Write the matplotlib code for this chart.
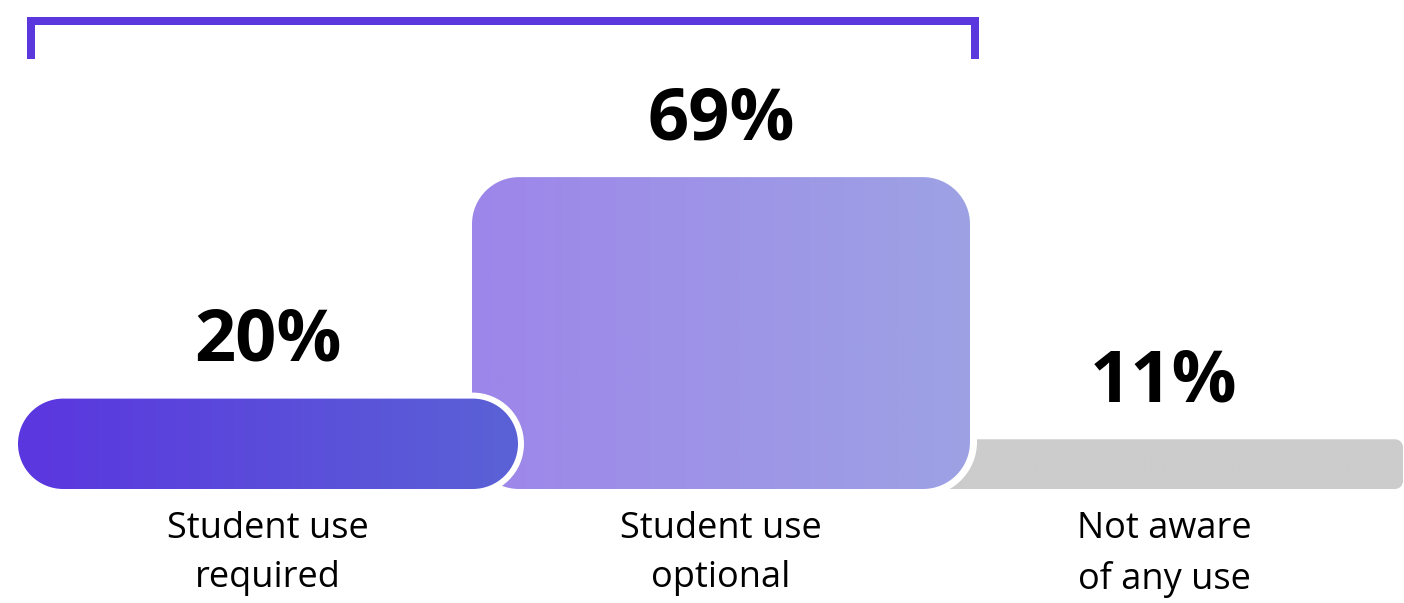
import matplotlib
matplotlib.use('Agg')
import matplotlib.pyplot as plt
import numpy as np
from matplotlib.patches import PathPatch
from matplotlib.path import Path
from matplotlib.transforms import IdentityTransform
from matplotlib.lines import Line2D
from matplotlib.colors import LinearSegmentedColormap

# ---- data ----
categories = ['Student use\nrequired', 'Student use\noptional', 'Not aware\nof any use']
values = [20, 69, 11]
value_labels = ['20%', '69%', '11%']

# ---- layout / style ----
W, H = 1404, 603
PX_PER_PCT = 4.52
BASE_PX = 114
bar_edges = [(18, 518), (472, 970), (925, 1403)]
radii = [None, 47, 8]           # None -> pill shape
halos = [6, 7, 0]
grads = [('#5A36DF', '#5B62D6'), ('#9D86EA', '#9DA2E4'), ('#CCCCCC', '#CCCCCC')]
FONT = 'Open Sans'

fig = plt.figure(figsize=(W / 100, H / 100), dpi=100)
ax = fig.add_axes([0, 0, 1, 1])
ax.set_axis_off()


def set_limits():
    ax.set_xlim(0, W)
    ax.set_ylim(-BASE_PX / PX_PER_PCT, (H - BASE_PX) / PX_PER_PCT)


def rounded_rect(x0, y0, x1, y1, r):
    r = min(r, (x1 - x0) / 2, (y1 - y0) / 2)
    verts, codes = [], []

    def arc(cx, cy, t1, t2, first=False):
        a = Path.arc(t1, t2)
        v = a.vertices * r + [cx, cy]
        c = list(a.codes)
        if not first:
            c[0] = Path.LINETO
        verts.extend(v.tolist())
        codes.extend(c)

    arc(x1 - r, y0 + r, -90, 0, first=True)
    arc(x1 - r, y1 - r, 0, 90)
    arc(x0 + r, y1 - r, 90, 180)
    arc(x0 + r, y0 + r, 180, 270)
    verts.append(verts[0])
    codes.append(Path.CLOSEPOLY)
    return Path(verts, codes)


set_limits()

# draw from right to left so left bars sit on top
for i in [2, 1, 0]:
    left, right = bar_edges[i]
    v = values[i]
    (x0, y0) = ax.transData.transform((left, 0))
    (x1, y1) = ax.transData.transform((right, v))
    h = y1 - y0
    r = h / 2 if radii[i] is None else radii[i]
    z = 2 * (3 - i)
    g = halos[i]
    if g > 0:
        halo = PathPatch(rounded_rect(x0 - g, y0 - g, x1 + g, y1 + g, r + g),
                         transform=IdentityTransform(), fc='white', ec='none', zorder=z)
        ax.add_patch(halo)
    clip = PathPatch(rounded_rect(x0, y0, x1, y1, r),
                     transform=IdentityTransform(), fc='none', ec='none', zorder=z + 1)
    ax.add_patch(clip)
    cmap = LinearSegmentedColormap.from_list(f'g{i}', list(grads[i]))
    im = ax.imshow(np.linspace(0, 1, 256)[None, :], extent=(left, right, 0, v),
                   cmap=cmap, aspect='auto', zorder=z + 1, interpolation='bilinear')
    im.set_clip_path(clip)

set_limits()

for i in range(3):
    left, right = bar_edges[i]
    c = (left + right) / 2
    ax.annotate(value_labels[i], xy=(c, values[i]), xytext=(0, 38), textcoords='offset pixels',
                ha='center', va='baseline', fontsize=52, fontweight='bold',
                family=FONT, color='black', zorder=20)
    ax.annotate(categories[i], xy=(c, 0), xytext=(0, -22), textcoords='offset pixels',
                ha='center', va='top', fontsize=26, family=FONT, color='black',
                linespacing=1.5, zorder=20)

# bracket over the "use" bars
bracket = Line2D([31, 31, 975, 975], [H - 59, H - 21, H - 21, H - 59],
                 transform=IdentityTransform(), lw=8 * 0.72, color='#5B37DE',
                 solid_joinstyle='miter', solid_capstyle='butt', zorder=20)
fig.add_artist(bracket)

fig.savefig('out.png', dpi=100)
